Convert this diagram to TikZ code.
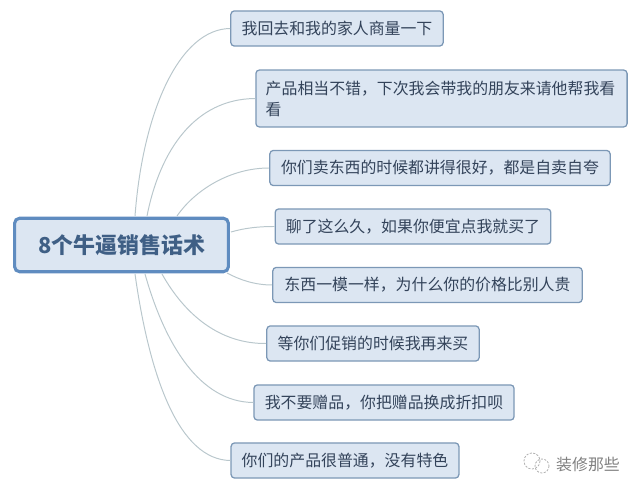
\documentclass[tikz,border=0pt]{standalone}
\usepackage{fontspec}
\setmainfont{Noto Sans CJK SC}
\definecolor{boxfill}{HTML}{DCE6F2}
\definecolor{boxline}{HTML}{7C98B6}
\definecolor{rootline}{HTML}{5F8CC0}
\definecolor{boxtext}{HTML}{33435A}
\definecolor{roottext}{HTML}{3F5F85}
\definecolor{branchline}{HTML}{B9C7CC}
\definecolor{marktext}{HTML}{808080}
\tikzset{
  leaf/.style={draw=boxline,fill=boxfill,line width=0.9pt,rounded corners=2.5pt,text=boxtext,font=\fontsize{11.3}{15}\selectfont,inner sep=0pt,minimum height=25pt},
  root/.style={draw=rootline,fill=boxfill,line width=2.2pt,rounded corners=3.5pt,text=roottext,font=\fontsize{15.6}{18}\selectfont\bfseries,inner sep=0pt,minimum width=152pt,minimum height=38pt},
  branch/.style={draw=branchline,line width=0.7pt},
  marklabel/.style={text=marktext,font=\fontsize{11.3}{14}\selectfont,inner sep=0pt},
  markring/.style={draw=marktext!60,line width=0.6pt,dash pattern=on 1.5pt off 1pt}
}
\begin{document}
\begin{tikzpicture}[x=0.025cm,y=-0.025cm]
  \useasboundingbox (0,0) rectangle (640,491);

  \node[root] (root) at (121.5,245) {8个牛逼销售话术};

  \node[leaf,minimum width=151pt] (n1) at (337,28.5) {我回去和我的家人商量一下};
  \node[leaf,minimum width=264pt,minimum height=40.5pt,text width=250pt,align=left] (n2) at (441.5,98.5) {产品相当不错，下次我会带我的朋友来请他帮我看\\看};
  \node[leaf,minimum width=242pt] (n3) at (440,168) {你们卖东西的时候都讲得很好，都是自卖自夸};
  \node[leaf,minimum width=196pt] (n4) at (413,226.5) {聊了这么久，如果你便宜点我就买了};
  \node[leaf,minimum width=220pt] (n5) at (427.5,285) {东西一模一样，为什么你的价格比别人贵};
  \node[leaf,minimum width=151pt] (n6) at (373,343.5) {等你们促销的时候我再来买};
  \node[leaf,minimum width=185pt] (n7) at (384,402.5) {我不要赠品，你把赠品换成折扣呗};
  \node[leaf,minimum width=162pt] (n8) at (345,460.5) {你们的产品很普通，没有特色};

  \coordinate (r1) at (135,216);
  \coordinate (r2) at (147,216);
  \coordinate (r3) at (177,216);
  \coordinate (r4) at (231,232);
  \coordinate (r5) at (227,273);
  \coordinate (r6) at (162,274);
  \coordinate (r7) at (145,274);
  \coordinate (r8) at (135,274);

  \draw[branch] (r1) .. controls (143,110) and (180,29) .. (n1.west);
  \draw[branch] (r2) .. controls (160,150) and (195,99) .. (n2.west);
  \draw[branch] (r3) .. controls (195,190) and (230,168) .. (n3.west);
  \draw[branch] (r4) .. controls (245,228) and (258,226.5) .. (n4.west);
  \draw[branch] (r5) .. controls (240,280) and (255,285) .. (n5.west);
  \draw[branch] (r6) .. controls (185,315) and (220,344) .. (n6.west);
  \draw[branch] (r7) .. controls (165,345) and (200,402) .. (n7.west);
  \draw[branch] (r8) .. controls (150,380) and (180,460) .. (n8.west);

  \draw[markring] (532,461) circle (8);
  \draw[markring] (542,466) circle (7);
  \node[marklabel] (watermark) at (588,464) {装修那些};
\end{tikzpicture}
\end{document}
